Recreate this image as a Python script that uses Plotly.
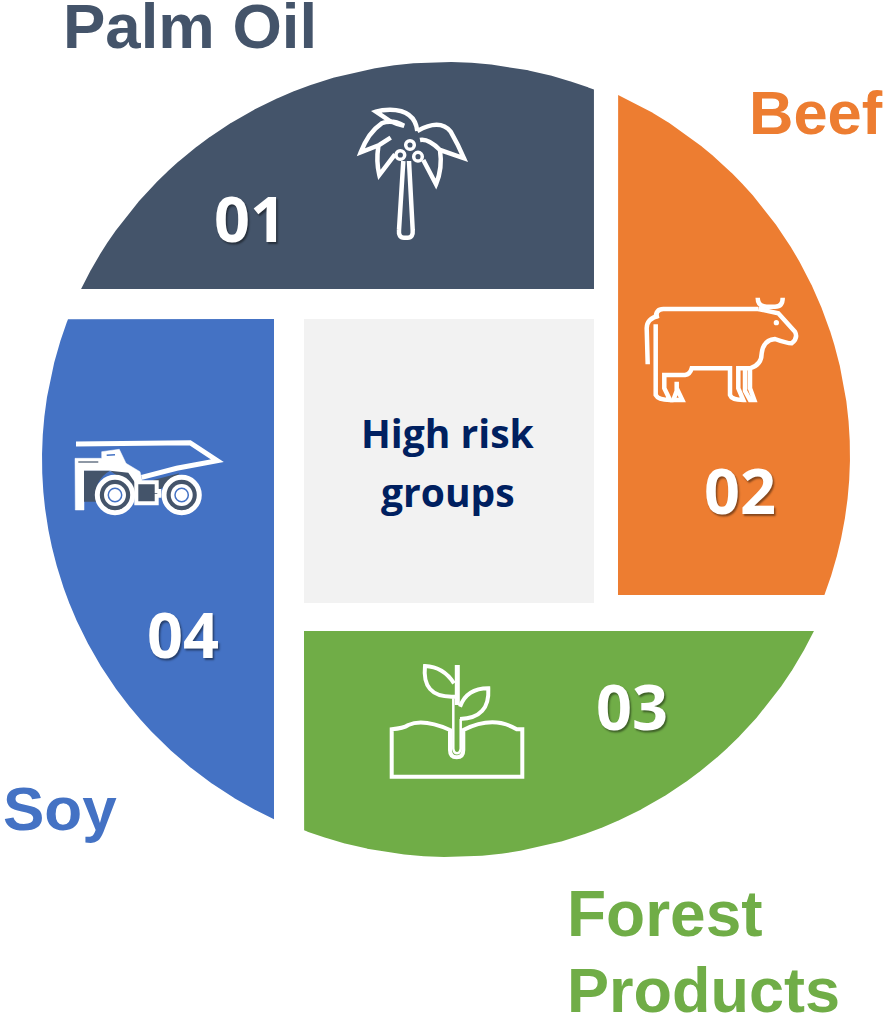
import re
import numpy as np
import plotly.graph_objects as go

# --- content -------------------------------------------------------------
GROUPS = ["Palm Oil", "Beef", "Forest Products", "Soy"]
NUMBERS = ["01", "02", "03", "04"]
COLOURS = ["#44546A", "#ED7D31", "#70AD47", "#4472C4"]
CENTRE_LINES = ["High risk", "groups"]
LABEL_TEXT = ["Palm Oil", "Beef", "Forest", "Products", "Soy"]

# --- layout constants ----------------------------------------------------
# cuts of the disc for each group: xmin, xmax, ymin, ymax
CUTS = [(0, 594, 0, 289), (618, 886, 0, 595), (304, 886, 631, 1015), (0, 274, 319, 1015)]
# disc of each group: centre x, centre y, radius x, radius y
DISCS = [(446, 459.5, 404, 397.5), (454.7, 455, 395.3, 395.3),
         (449.5, 459.5, 404, 397.5), (446, 459.5, 404, 397.5)]
CENTRE_BOX = (304, 594, 319, 603)
NUM_POS = [(250, 217), (740, 489), (632, 705), (183, 633)]
LABEL_COL = ["#44546A", "#ED7D31", "#70AD47", "#70AD47", "#4472C4"]
LABEL_X = [63, 749, 567, 567, 3]
LABEL_Y = [26, 112, 914, 990, 808]
LABEL_SIZE = [63.5, 61.5, 64, 63, 62]
CENTRE_POS = [(448, 432), (448, 491)]

fig = go.Figure()
t = np.linspace(0, 2 * np.pi, 12000, endpoint=False)
for (x0, x1, y0, y1), (cx, cy, rx, ry), c, name in zip(CUTS, DISCS, COLOURS, GROUPS):
    ex, ey = cx + rx * np.cos(t), cy + ry * np.sin(t)
    idx = np.where((ex >= x0) & (ex <= x1) & (ey >= y0) & (ey <= y1))[0]
    gaps = np.where(np.diff(idx) > 1)[0]
    if len(gaps):
        idx = np.r_[idx[gaps[0] + 1:], idx[:gaps[0] + 1]]
    # arc of the disc inside the cut, closed at the corner of the two cuts
    px = list(ex[idx]) + [x1 if x1 < 886 else x0]
    py = list(ey[idx]) + [y1 if y1 < 1015 else y0]
    fig.add_trace(go.Scatter(x=px, y=py, mode="lines", fill="toself", fillcolor=c,
                             line=dict(width=0, color=c), name=name, hoverinfo="name"))

shapes = [dict(type="rect", x0=CENTRE_BOX[0], x1=CENTRE_BOX[1], y0=CENTRE_BOX[2], y1=CENTRE_BOX[3],
               fillcolor="#F2F2F2", line=dict(width=0), layer="above")]


def place(d, ox, oy, k=1 / 3):
    def rep(m):
        return f"{float(m.group(1)) * k + ox:.1f},{float(m.group(2)) * k + oy:.1f}"
    return re.sub(r"(-?[\d.]+),(-?[\d.]+)", rep, d)


def stroke(d, ox, oy, w=4.5, col="white", fill=None):
    shapes.append(dict(type="path", path=place(d, ox, oy), xref="x", yref="y", layer="above",
                       line=dict(color=col, width=w), fillcolor=fill or "rgba(0,0,0,0)"))


def ring(x, y, r, ox, oy, w=4, col="white", fill=None):
    d = f"M {x-r},{y} C {x-r},{y-r*.55} {x-r*.55},{y-r} {x},{y-r} C {x+r*.55},{y-r} {x+r},{y-r*.55} {x+r},{y} " \
        f"C {x+r},{y+r*.55} {x+r*.55},{y+r} {x},{y+r} C {x-r*.55},{y+r} {x-r},{y+r*.55} {x-r},{y} Z"
    stroke(d, ox, oy, w, col, fill)


# palm
P = (340, 95)
stroke("M 190,198 L 177,405 Q 175,428 192,428 L 203,428 Q 220,428 218,405 L 207,198", *P)
stroke("M 232,108 Q 225,45 150,44 Q 125,44 108,50 L 150,78 Q 170,88 192,92 Q 155,72 125,85 Q 85,112 62,172 L 118,150 L 152,128", *P)
stroke("M 115,155 Q 108,200 118,240 L 165,178", *P)
stroke("M 232,108 Q 300,70 332,110 Q 355,150 372,190 L 300,165 Q 265,130 240,135", *P)
stroke("M 300,165 Q 308,220 288,268 L 250,195", *P)
for q in [(210, 150), (181, 180), (234, 185)]:
    ring(q[0], q[1], 13, *P, w=3.5)

# cow
C = (635, 285)
stroke("M 370,72 L 85,72 Q 62,72 62,100", *C)
stroke("M 72,92 Q 35,100 35,130 L 38,238", *C)
stroke("M 62,118 L 62,330 Q 70,345 105,345 L 88,310 L 88,270 L 150,270 Q 165,268 170,250 L 285,250 L 285,330 "
       "Q 290,345 325,345 L 310,310 L 310,250 L 345,250 Q 380,240 380,205 Q 385,165 420,162 Q 455,175 470,175 "
       "Q 490,160 480,140 L 430,85 L 370,72", *C)
stroke("M 125,290 L 125,318 L 115,345 L 142,345 L 125,310", *C)
stroke("M 330,255 L 330,318 L 345,345 L 358,345 L 345,310 L 345,255", *C)
stroke("M 368,38 Q 368,65 395,65 L 420,65 Q 443,65 443,38", *C)
ring(424, 113, 5, *C, w=2, fill="white")

# truck
T = (60, 430)
stroke("M 48,42 L 390,38 L 472,92 L 350,115 L 245,142", *T, w=5)
stroke("M 45,85 L 125,85 L 125,65 L 178,58 L 198,100 L 240,125 L 246,150 L 232,170 L 215,150 "
       "L 150,122 L 72,122 L 72,215 L 72,240 L 46,240 Z", *T, w=0.5, fill="white")
stroke("M 72,122 L 150,122 Q 100,150 108,215 L 72,215 Z", *T, w=0, fill="#44546A")
stroke("M 150,122 L 205,128 L 230,165 L 225,190 L 190,150 Z", *T, w=0, fill="#44546A")
stroke("M 280,150 L 358,130 L 345,150 L 300,178 L 280,170 Z", *T, w=0, fill="#44546A")
stroke("M 55,96 L 115,96", *T, w=1.2, col="#44546A")
stroke("M 140,76 L 165,74", *T, w=1.5, col="#4472C4")
stroke("M 229,157 L 290,157 L 290,183 L 298,183 L 298,197 L 290,197 L 290,220 L 229,220 Z", *T, w=4, fill="#44546A")
for wx in (165, 365):
    ring(wx, 195, 53, *T, w=5, fill="#44546A")
    ring(wx, 195, 33, *T, w=0, fill="white")
    ring(wx, 195, 20, *T, w=1.5, col="#4472C4", fill="white")

# plant
F = (380, 650)
stroke("M 35,238 Q 70,235 85,225 Q 130,205 210,240 L 210,300 Q 210,322 230,322 Q 250,322 250,300 L 250,240 "
       "Q 340,195 410,238 L 427,238 L 427,380 L 35,380 Z", *F, w=4)
stroke("M 232,45 L 232,165", *F, w=5)
stroke("M 220,145 L 220,296 Q 222,310 231,310 Q 240,310 242,296 L 242,207", *F, w=2.5)
stroke("M 222,100 Q 190,50 135,48 Q 125,140 215,140 L 225,140", *F, w=4)
stroke("M 240,170 Q 260,115 325,115 Q 330,205 240,207", *F, w=4)

annotations = []
for (x, y), s in zip(NUM_POS, NUMBERS):
    annotations.append(dict(x=x, y=y, text=f"<b>{s}</b>", xref="x", yref="y", showarrow=False,
                            font=dict(family="Open Sans", size=63, color="white",
                                      shadow="1.5px 1.5px 2px rgba(0,0,0,0.45)")))
for s, c, x, y, z in zip(LABEL_TEXT, LABEL_COL, LABEL_X, LABEL_Y, LABEL_SIZE):
    annotations.append(dict(x=x, y=y, text=f"<b>{s}</b>", xref="x", yref="y", showarrow=False,
                            xanchor="left", xshift=-2,
                            font=dict(family="Liberation Sans", size=z, color=c)))
for (x, y), s in zip(CENTRE_POS, CENTRE_LINES):
    annotations.append(dict(x=x, y=y, text=f"<b>{s}</b>", xref="x", yref="y", showarrow=False,
                            font=dict(family="Open Sans", size=39, color="#002060")))

fig.update_layout(width=886, height=1015, margin=dict(l=0, r=0, t=0, b=0),
                  paper_bgcolor="white", plot_bgcolor="white", showlegend=False,
                  xaxis=dict(range=[0, 886], visible=False, fixedrange=True),
                  yaxis=dict(range=[1015, 0], visible=False, fixedrange=True),
                  shapes=shapes, annotations=annotations)
fig.write_html("out.html", post_script="document.body.style.margin='0';document.body.style.overflow='hidden';",
               config=dict(displayModeBar=False))
